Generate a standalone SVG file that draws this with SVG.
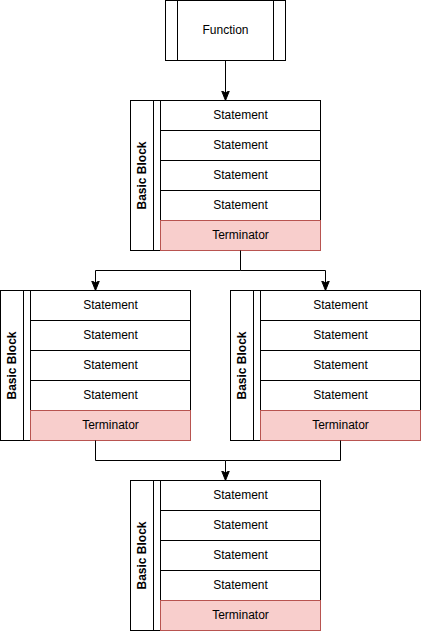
<svg xmlns="http://www.w3.org/2000/svg" width="421" height="631" viewBox="0 0 421 631">
<style>
.b{fill:#fff;stroke:#000;stroke-width:1}
.t{fill:#f8cecc;stroke:#b85450;stroke-width:1}
.l{fill:none;stroke:#000;stroke-width:1}
text{font-family:"Liberation Sans",Arial,sans-serif;font-size:12px;fill:#000;text-anchor:middle;dominant-baseline:central}
.h{font-weight:bold}
</style>
<defs>
<marker id="a" viewBox="0 0 10 10" refX="10" refY="5" markerWidth="10" markerHeight="10" markerUnits="userSpaceOnUse" orient="auto">
<path d="M0,1 L10,5 L0,9 L2.5,5 Z" fill="#000" stroke="#000" stroke-width="1"/>
</marker>
<g id="blk">
<rect class="b" x="0.5" y="0.5" width="190" height="150"/>
<line class="l" x1="23.5" y1="0.5" x2="23.5" y2="150.5"/>
<rect class="b" x="30.5" y="0.5" width="160" height="30"/>
<rect class="b" x="30.5" y="30.5" width="160" height="30"/>
<rect class="b" x="30.5" y="60.5" width="160" height="30"/>
<rect class="b" x="30.5" y="90.5" width="160" height="30"/>
<rect class="t" x="30.5" y="120.5" width="160" height="30"/>
<text x="110.5" y="14.5">Statement</text>
<text x="110.5" y="44.5">Statement</text>
<text x="110.5" y="74.5">Statement</text>
<text x="110.5" y="104.5">Statement</text>
<text x="110.5" y="134.5">Terminator</text>
<text class="h" transform="translate(12,75.5) rotate(-90)">Basic Block</text>
</g>
</defs>
<g id="function">
<rect class="b" x="165.5" y="0.5" width="120" height="60"/>
<line class="l" x1="177.5" y1="0.5" x2="177.5" y2="60.5"/>
<line class="l" x1="273.5" y1="0.5" x2="273.5" y2="60.5"/>
<text x="225.5" y="29.5">Function</text>
</g>
<g id="block1"><use href="#blk" x="130" y="100"/></g>
<g id="block2"><use href="#blk" x="0" y="290"/></g>
<g id="block3"><use href="#blk" x="230" y="290"/></g>
<g id="block4"><use href="#blk" x="130" y="480"/></g>
<g id="connectors">
<path class="l" d="M225.5,60.5 L225.5,100.5" marker-end="url(#a)"/>
<path class="l" d="M240.5,250.5 L240.5,270.5 L95.5,270.5 L95.5,290.5" marker-end="url(#a)"/>
<path class="l" d="M240.5,270.5 L325.5,270.5 L325.5,290.5" marker-end="url(#a)"/>
<path class="l" d="M95.5,440.5 L95.5,460.5 L225.5,460.5 L225.5,480.5" marker-end="url(#a)"/>
<path class="l" d="M340.5,440.5 L340.5,460.5 L225.5,460.5"/>
</g>
</svg>
